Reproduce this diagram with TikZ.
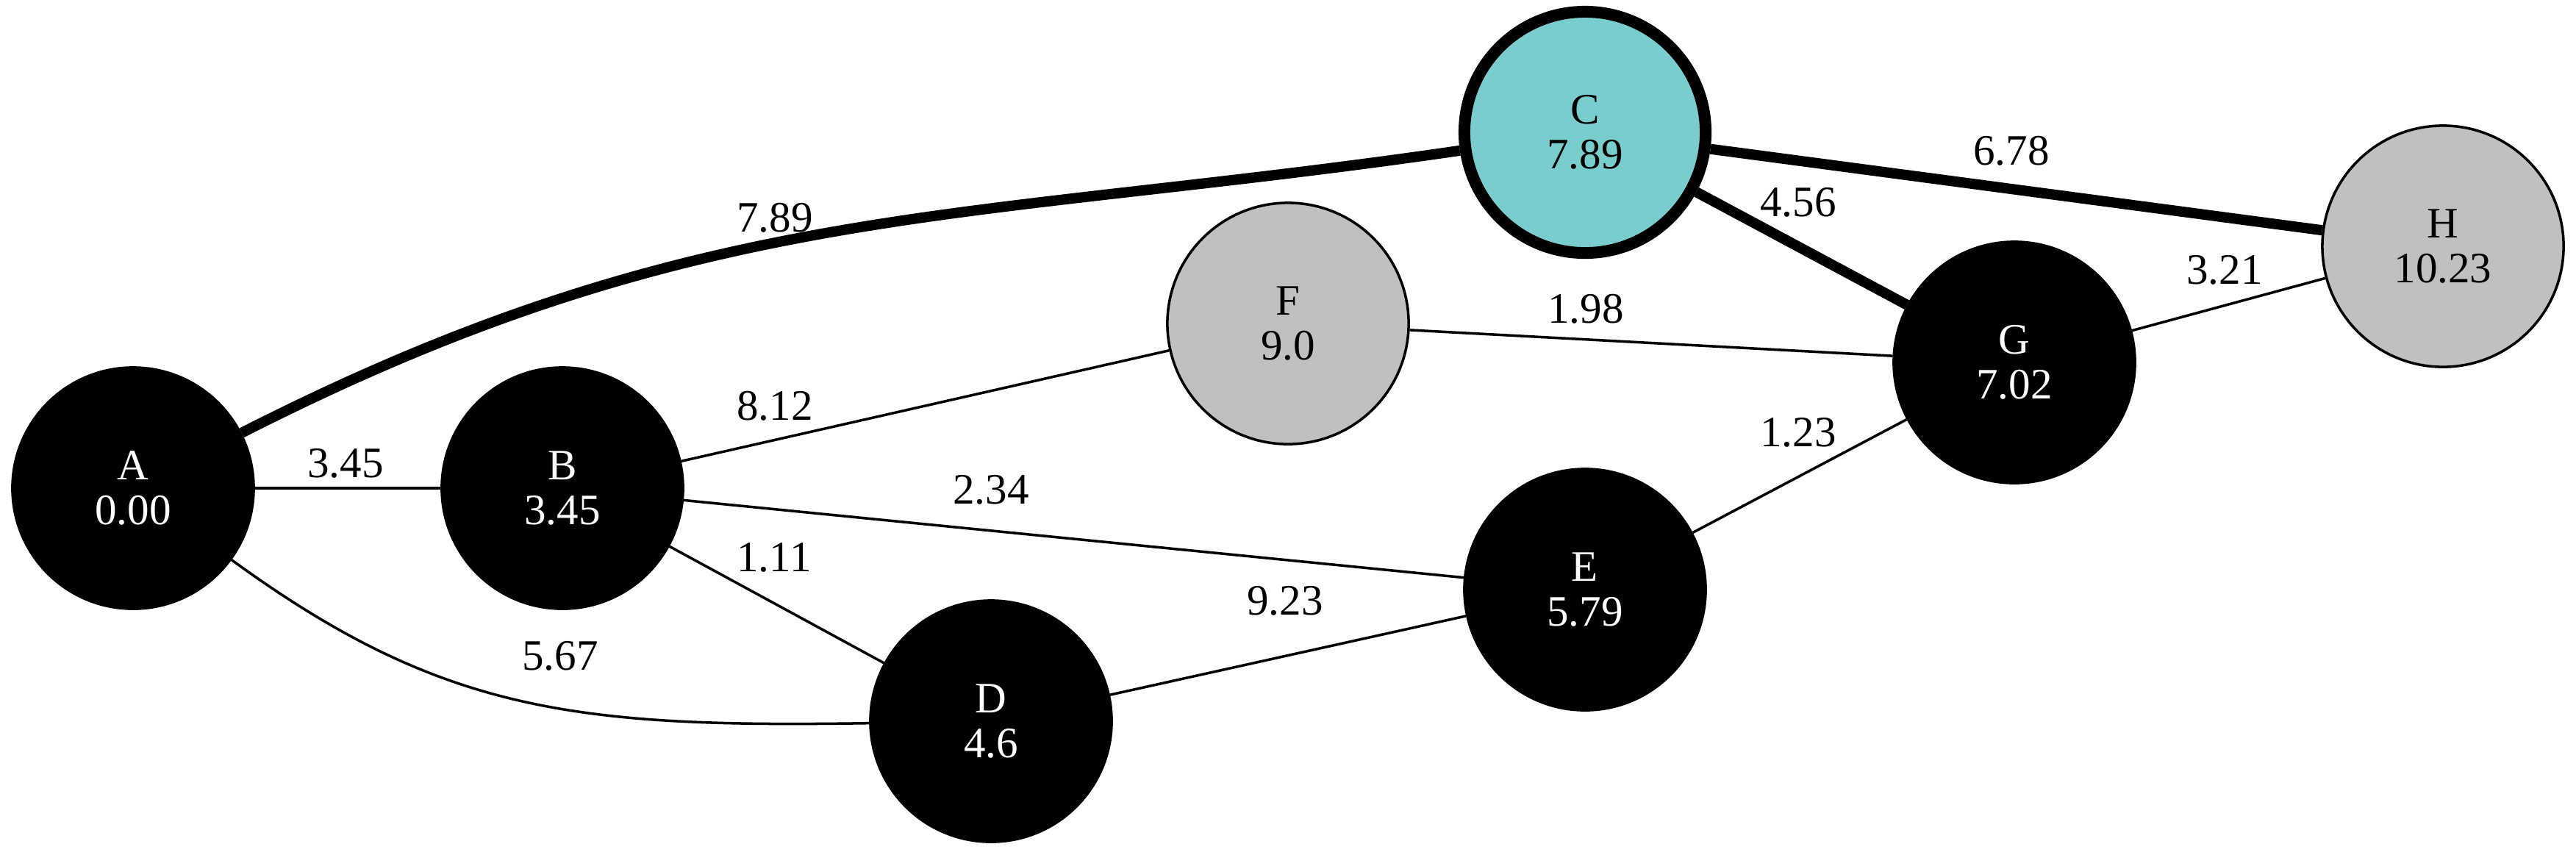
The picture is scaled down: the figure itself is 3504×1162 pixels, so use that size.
\documentclass[tikz,border=0pt]{standalone}
\usepackage{fontspec}
\setmainfont{Liberation Serif}
\usetikzlibrary{backgrounds}
\definecolor{cyanfill}{HTML}{79CDCD}
\definecolor{grayfill}{HTML}{C0C0C0}
\begin{document}
\begin{tikzpicture}[x=0.01cm,y=-0.01cm,
  vnode/.style={circle, minimum size=3.28cm, inner sep=0pt, line width=1pt, align=center,
    font=\fontsize{16.8}{17.4}\selectfont},
  blacknode/.style={vnode, fill=black, draw=black, text=white},
  graynode/.style={vnode, fill=grayfill, draw=black},
  hubnode/.style={vnode, fill=cyanfill, draw=black, line width=4.55pt},
  thinedge/.style={line width=1pt},
  heavyedge/.style={line width=4pt},
  wlabel/.style={font=\fontsize{16.8}{17.4}\selectfont, inner sep=0pt}]
\useasboundingbox (0,0) rectangle (3504,1162);
% nodes
\node[blacknode] (A) at (181,664) {A\\0.00};
\node[blacknode] (B) at (765,664) {B\\3.45};
\node[hubnode]   (C) at (2156,180) {C\\7.89};
\node[blacknode] (D) at (1348,981) {D\\4.6};
\node[blacknode] (E) at (2156,802) {E\\5.79};
\node[graynode]  (F) at (1752,440) {F\\9.0};
\node[blacknode] (G) at (2740,493) {G\\7.02};
\node[graynode]  (H) at (3323,335) {H\\10.23};
% edges
\begin{scope}[on background layer]
\draw[heavyedge] (A) .. controls (953,271) and (1298,305) .. (C);
\draw[heavyedge] (C) -- (G);
\draw[heavyedge] (C) -- (H);
\draw[thinedge] (A) -- (B);
\draw[thinedge] (A) .. controls (600,969) and (782,990) .. (D);
\draw[thinedge] (B) -- (F);
\draw[thinedge] (B) -- (E);
\draw[thinedge] (B) -- (D);
\draw[thinedge] (D) -- (E);
\draw[thinedge] (F) -- (G);
\draw[thinedge] (E) -- (G);
\draw[thinedge] (G) -- (H);
\end{scope}
% edge labels
\node[wlabel] (lAC) at (1054,296) {7.89};
\node[wlabel] (lAB) at (470,630) {3.45};
\node[wlabel] (lBF) at (1054,552) {8.12};
\node[wlabel] (lBE) at (1348,666) {2.34};
\node[wlabel] (lBD) at (1053,758) {1.11};
\node[wlabel] (lAD) at (762,892) {5.67};
\node[wlabel] (lDE) at (1748,817) {9.23};
\node[wlabel] (lFG) at (2157,420) {1.98};
\node[wlabel] (lCG) at (2446,275) {4.56};
\node[wlabel] (lCH) at (2736,205) {6.78};
\node[wlabel] (lGH) at (3026,367) {3.21};
\node[wlabel] (lEG) at (2446,588) {1.23};
\end{tikzpicture}
\end{document}
